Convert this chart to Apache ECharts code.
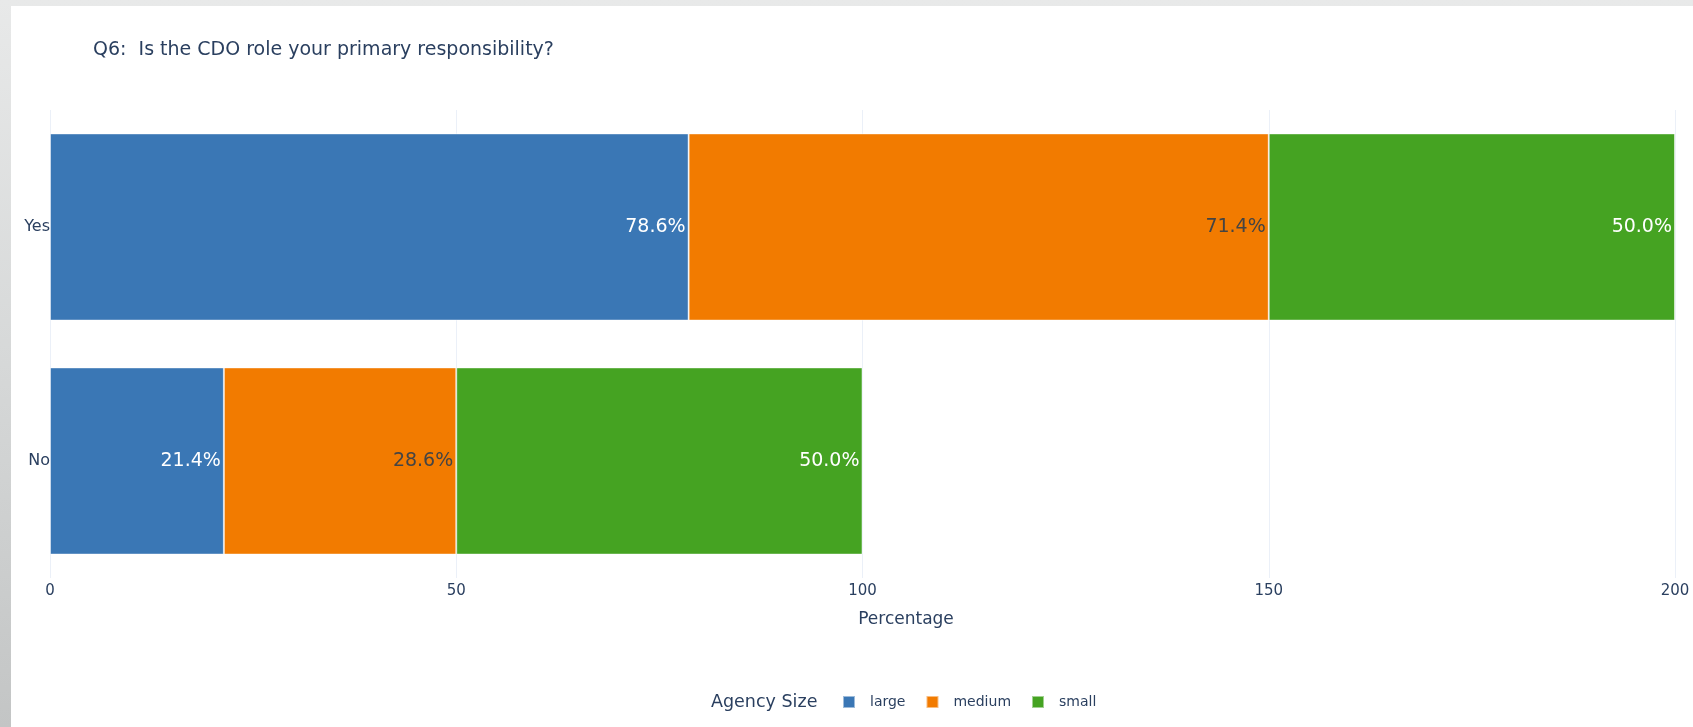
<!DOCTYPE html>
<html>
<head>
<meta charset="utf-8">
<script src="https://cdn.jsdelivr.net/npm/echarts@6/dist/echarts.min.js"></script>
<style>
  html, body { margin: 0; padding: 0; width: 1693px; height: 727px; overflow: hidden;
    background: linear-gradient(to bottom, #e8e9e9 0%, #d6d8d8 50%, #c3c5c5 100%); }
  #chart { position: absolute; left: 11px; top: 6px; width: 1682px; height: 721px; background: #fff; }
</style>
</head>
<body>
<div id="chart"></div>
<script>
const categories = ['No', 'Yes'];
const seriesNames = ['large', 'medium', 'small'];
const largeValues = [21.4, 78.6];
const mediumValues = [28.6, 71.4];
const smallValues = [50.0, 50.0];
const xTicks = [0, 50, 100, 150, 200];

const colors = ['#3a77b5', '#f27b00', '#45a322'];
const labelColors = ['#ffffff', '#444444', '#ffffff'];
const values = [largeValues, mediumValues, smallValues];
const FONT = '"DejaVu Sans", Verdana, sans-serif';
const TXT = '#2a3f5f';

const chart = echarts.init(document.getElementById('chart'), null, { renderer: 'canvas' });
chart.setOption({
  animation: false,
  textStyle: { fontFamily: FONT },
  title: {
    text: 'Q6:  Is the CDO role your primary responsibility?',
    left: 77, top: 30,
    textStyle: { fontFamily: FONT, fontSize: 19, fontWeight: 'normal', color: TXT }
  },
  graphic: [{
    type: 'text', left: 700, top: 687,
    style: { text: 'Agency Size', font: '17.5px ' + FONT, fill: TXT }
  }, {
    type: 'text', x: 895, y: 614,
    style: { text: 'Percentage', font: '17px ' + FONT, fill: TXT, textAlign: 'center', textVerticalAlign: 'middle' }
  }],
  legend: {
    left: 831, top: 689, padding: 0,
    itemWidth: 12, itemHeight: 12, itemGap: 20, icon: 'rect',
    data: seriesNames,
    textStyle: { fontFamily: FONT, fontSize: 14, color: TXT, padding: [0, 0, 0, 10] }
  },
  grid: { left: 39, right: 18, top: 104, bottom: 149, containLabel: false },
  xAxis: {
    type: 'value', min: 0, max: 200, interval: 50,
    axisLine: { show: false }, axisTick: { show: false },
    axisLabel: { fontFamily: FONT, fontSize: 15, color: TXT, margin: 6,
      formatter: v => xTicks.includes(v) ? String(v) : '' },
    splitLine: { show: true, lineStyle: { color: '#ebf0f8', width: 1 } }
  },
  yAxis: {
    type: 'category', data: categories,
    axisLine: { show: false }, axisTick: { show: false },
    axisLabel: { fontFamily: FONT, fontSize: 16, color: TXT, margin: 0 },
    splitLine: { show: false }
  },
  series: seriesNames.map((name, i) => ({
    name, type: 'bar', stack: 'total', barCategoryGap: '20%',
    data: values[i],
    itemStyle: { color: colors[i], borderColor: 'rgba(255,255,255,0.5)', borderWidth: 1 },
    label: {
      show: true, position: 'insideRight', distance: 3,
      formatter: p => p.value.toFixed(1) + '%',
      fontFamily: FONT, fontSize: 19, color: labelColors[i]
    }
  }))
});
</script>
</body>
</html>
